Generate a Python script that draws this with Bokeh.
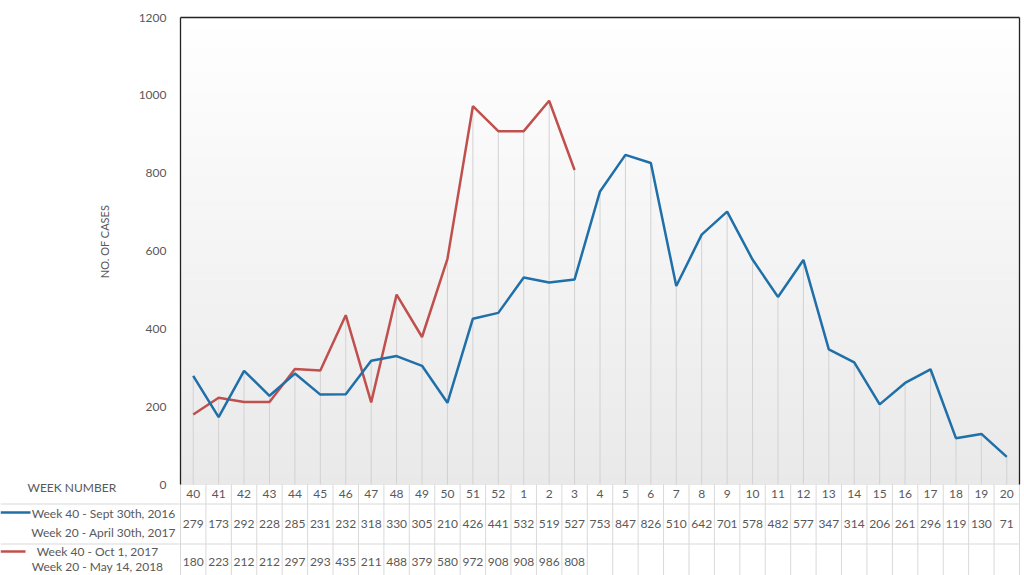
import numpy as np
from bokeh.plotting import figure
from bokeh.models import Range1d
from bokeh.embed import file_html
from bokeh.resources import INLINE
from bokeh.core.properties import value

# ---------------- data ----------------
weeks = ["40", "41", "42", "43", "44", "45", "46", "47", "48", "49", "50", "51", "52",
         "1", "2", "3", "4", "5", "6", "7", "8", "9", "10", "11", "12", "13", "14",
         "15", "16", "17", "18", "19", "20"]
cases_2016_17 = [279, 173, 292, 228, 285, 231, 232, 318, 330, 305, 210, 426, 441,
                 532, 519, 527, 753, 847, 826, 510, 642, 701, 578, 482, 577, 347, 314,
                 206, 261, 296, 119, 130, 71]
cases_2017_18 = [180, 223, 212, 212, 297, 293, 435, 211, 488, 379, 580, 972, 908,
                 908, 986, 808]
label_2016_17 = ["Week 40 - Sept 30th, 2016", "Week 20 - April 30th, 2017"]
label_2017_18 = ["Week 40 - Oct 1, 2017", "Week 20 - May 14, 2018"]
y_ticks = [0, 200, 400, 600, 800, 1000, 1200]
y_title = "NO. OF CASES"
table_title = "WEEK NUMBER"

# ---------------- style ----------------
BLUE = "#1f6fa8"
RED = "#c0504d"
TXT = "#595959"
GRID = "#d9d9d9"
DROP = "#d2d2d2"
FONT = "Lato"
FS = "12px"

n = len(weeks)
m = len(cases_2017_18)
idx = np.arange(n)

# page layout: plot area spans x 180..1019 px and y 17..484 px
PL, PR, PT, PB = 180, 1019, 17, 484
s = n / float(PR - PL)          # category units per pixel
k = 1200.0 / float(PB - PT)     # value units per pixel


def px2x(px):
    return -0.5 + (px - PL) * s


def py2y(py):
    return (PB - py) * k


p = figure(width=1024, height=575,
           x_range=Range1d(px2x(0), px2x(1024)),
           y_range=Range1d(py2y(575), py2y(0)),
           min_border_left=0, min_border_right=0,
           min_border_top=0, min_border_bottom=0,
           x_axis_location=None, y_axis_location=None,
           output_backend="svg", toolbar_location=None)
p.grid.visible = False
p.outline_line_color = None
p.background_fill_color = "white"
p.border_fill_color = "white"

# gradient background of the plot area
nstrip = 80
edges = np.linspace(0, 1200, nstrip + 1)
fr = (edges[:-1] + edges[1:]) / 2 / 1200.0
greys = [int(round(233 + (255 - 233) * f)) for f in fr]
cols = ["#%02x%02x%02x" % (g, g, g) for g in greys]
p.quad(left=-0.5, right=n - 0.5, bottom=edges[:-1], top=edges[1:],
       fill_color=cols, line_color=cols, line_width=1)

# drop lines
tops = [max(a, cases_2017_18[i]) if i < m else a for i, a in enumerate(cases_2016_17)]
p.segment(x0=idx, y0=0, x1=idx, y1=tops, line_color=DROP, line_width=1)

# data table grid
bounds_x = np.arange(n + 1) - 0.5
p.segment(x0=bounds_x, y0=0, x1=bounds_x, y1=py2y(575), line_color=GRID, line_width=1)
p.segment(x0=[px2x(0), px2x(0)], y0=[py2y(503.5), py2y(543.5)],
          x1=[n - 0.5, n - 0.5], y1=[py2y(503.5), py2y(543.5)],
          line_color=GRID, line_width=1)

# plot area border
p.segment(x0=[-0.5, -0.5, n - 0.5], y0=[0, 1200, 0],
          x1=[-0.5, n - 0.5, n - 0.5], y1=[1200, 1200, 1200],
          line_color="#222222", line_width=1.3)

# series
p.line(idx[:m], cases_2017_18, line_color=RED, line_width=2.5)
p.line(idx, cases_2016_17, line_color=BLUE, line_width=2.5)

# y axis tick labels and title
p.text(x=[px2x(166)] * len(y_ticks), y=y_ticks, text=[str(v) for v in y_ticks],
       text_font=value(FONT), text_font_size=FS, text_color=TXT,
       text_align="right", text_baseline="middle")
p.text(x=[px2x(104)], y=[py2y(241)], text=[y_title], angle=np.pi / 2,
       text_font=value(FONT), text_font_size="11px", text_color=TXT,
       text_align="center", text_baseline="middle")

# table header row
p.text(x=idx, y=[py2y(493)] * n, text=weeks, text_font=value(FONT),
       text_font_size=FS, text_color=TXT, text_align="center", text_baseline="middle")
p.text(x=[px2x(27)], y=[py2y(487)], text=[table_title], text_font=value(FONT),
       text_font_size=FS, text_color=TXT, text_align="left", text_baseline="middle")

# legend keys and series names
p.line([px2x(0), px2x(30)], [py2y(512)] * 2, line_color=BLUE, line_width=2.5)
p.line([px2x(0), px2x(25)], [py2y(551)] * 2, line_color=RED, line_width=2.5)
p.text(x=[px2x(103)] * 2, y=[py2y(513), py2y(532)], text=label_2016_17,
       text_font=value(FONT), text_font_size=FS, text_color=TXT,
       text_align="center", text_baseline="middle")
p.text(x=[px2x(97)] * 2, y=[py2y(551), py2y(566)], text=label_2017_18,
       text_font=value(FONT), text_font_size=FS, text_color=TXT,
       text_align="center", text_baseline="middle")

# table values
p.text(x=idx, y=[py2y(523)] * n, text=[str(v) for v in cases_2016_17],
       text_font=value(FONT), text_font_size=FS, text_color=TXT,
       text_align="center", text_baseline="middle")
p.text(x=idx[:m], y=[py2y(561)] * m, text=[str(v) for v in cases_2017_18],
       text_font=value(FONT), text_font_size=FS, text_color=TXT,
       text_align="center", text_baseline="middle")

open("out.html", "w").write(file_html(p, INLINE))
